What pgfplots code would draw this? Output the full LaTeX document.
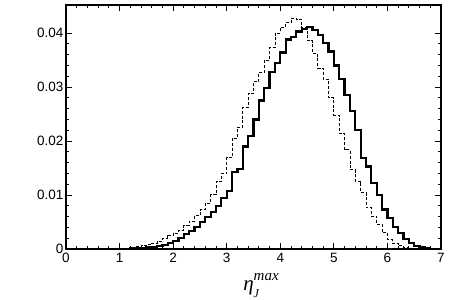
\documentclass[border=0pt]{standalone}
\usepackage{pgfplots}
\usepackage{pgfplotstable}
\pgfplotsset{compat=1.18}
\usepackage{fontspec}
\setmainfont{Liberation Sans}
\newfontfamily\tms{Liberation Serif}

\pgfplotstableread{
x y
0.0 0
0.9 0.00002
1.0 0.00003
1.1 0.00005
1.2 0.0001
1.3 0.00015
1.4 0.0002
1.5 0.0003
1.6 0.0004
1.7 0.0006
1.8 0.0008
1.9 0.0011
2.0 0.0015
2.1 0.0021
2.2 0.0028
2.3 0.0034
2.4 0.0041
2.5 0.0050
2.6 0.0060
2.7 0.0069
2.8 0.0080
2.9 0.0095
3.0 0.0108
3.1 0.0142
3.2 0.0148
3.3 0.0190
3.4 0.0210
3.5 0.0240
3.6 0.0275
3.7 0.0298
3.8 0.0328
3.9 0.0345
4.0 0.0364
4.1 0.0388
4.2 0.0393
4.3 0.0403
4.4 0.0408
4.5 0.0411
4.6 0.0405
4.7 0.0397
4.8 0.0382
4.9 0.0366
5.0 0.0340
5.1 0.0315
5.2 0.0285
5.3 0.0255
5.4 0.0220
5.5 0.0169
5.6 0.0153
5.7 0.0123
5.8 0.0100
5.9 0.0073
6.0 0.0057
6.1 0.0041
6.2 0.0030
6.3 0.0019
6.4 0.0011
6.5 0.0006
6.6 0.0003
6.7 0.00015
6.8 0.00005
6.9 0.00002
7.0 0
}\solid

\pgfplotstableread{
x y
0.0 0
0.8 0.00002
0.9 0.00003
1.0 0.00006
1.1 0.00012
1.2 0.0002
1.3 0.0004
1.4 0.0006
1.5 0.0008
1.6 0.0011
1.7 0.0015
1.8 0.0020
1.9 0.0025
2.0 0.0029
2.1 0.0035
2.2 0.0044
2.3 0.0052
2.4 0.0062
2.5 0.0073
2.6 0.0085
2.7 0.0101
2.8 0.0125
2.9 0.0140
3.0 0.0170
3.1 0.0205
3.2 0.0226
3.3 0.0262
3.4 0.0288
3.5 0.0310
3.6 0.0327
3.7 0.0350
3.8 0.0373
3.9 0.0400
4.0 0.0410
4.1 0.0419
4.2 0.0428
4.3 0.0426
4.4 0.0410
4.5 0.0386
4.6 0.0363
4.7 0.0335
4.8 0.0315
4.9 0.0280
5.0 0.0248
5.1 0.0214
5.2 0.0184
5.3 0.0147
5.4 0.0125
5.5 0.0104
5.6 0.0077
5.7 0.0060
5.8 0.0045
5.9 0.0030
6.0 0.0017
6.1 0.0010
6.2 0.0006
6.3 0.0003
6.4 0.00015
6.5 0.00005
6.6 0.00002
7.0 0
}\dashed

\begin{document}
\begin{tikzpicture}
\path[use as bounding box] (-66pt,-50.7pt) rectangle (391pt,249pt);
\begin{axis}[
  scale only axis,
  width=375pt, height=244pt,
  xmin=0, xmax=7, ymin=0, ymax=0.0452,
  xtick={0,1,...,7},
  ytick={0,0.01,0.02,0.03,0.04},
  minor x tick num=4,
  minor y tick num=4,
  tick align=inside,
  xtick pos=both, ytick pos=both,
  major tick length=6pt,
  minor tick length=3pt,
  axis line style={line width=1.3pt},
  every tick/.style={black, line width=0.9pt},
  tick label style={font=\fontsize{13.5}{15}\selectfont},
  /pgf/number format/assume math mode=true,
  yticklabel style={/pgf/number format/fixed, /pgf/number format/precision=2, xshift=1pt},
  scaled y ticks=false,
  xticklabel style={yshift=-0.5pt},
  xlabel={\tms\itshape\fontsize{21}{23}\selectfont η\rlap{\raisebox{-0.3em}{\fontsize{12}{13}\selectfont J}}\raisebox{0.5em}{\fontsize{15}{16}\selectfont max}},
  every axis x label/.style={at={(axis description cs:0.52,0)}, anchor=base, yshift=-41.7pt},
  clip=true,
]
\addplot[const plot, black, line width=0.8pt, dash pattern=on 3pt off 1.8pt] table[x=x,y=y] {\dashed};
\addplot[const plot, black, line width=2.2pt] table[x=x,y=y] {\solid};
\end{axis}
\end{tikzpicture}
\end{document}
